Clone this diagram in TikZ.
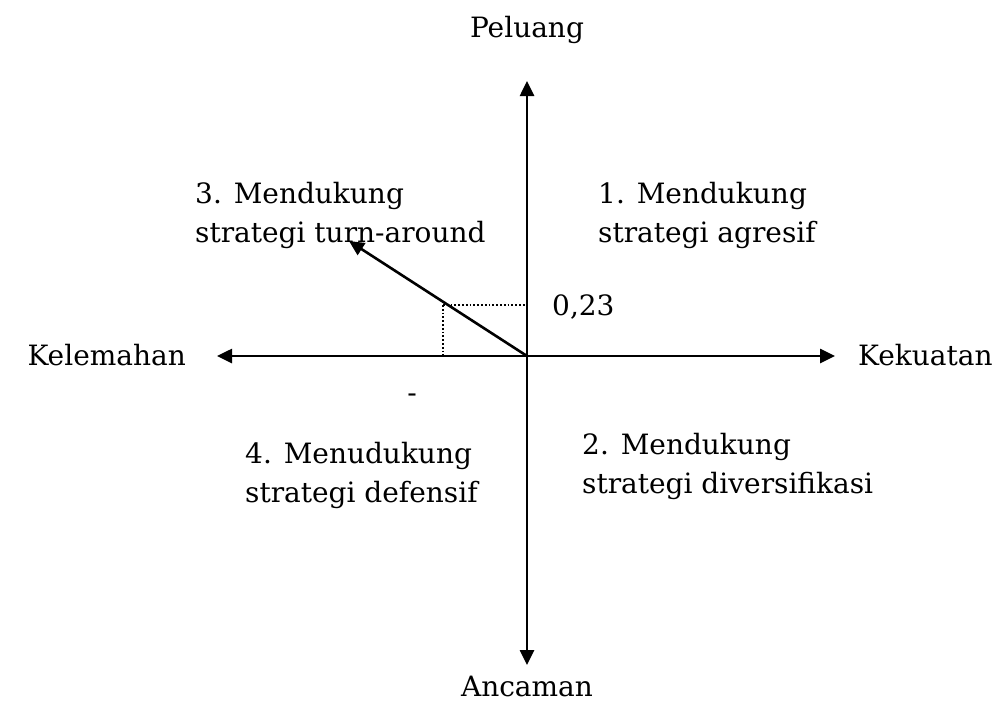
\documentclass[tikz,border=0pt]{standalone}
\usepackage{fontspec}
\setmainfont{DejaVu Serif}
\usetikzlibrary{arrows.meta,positioning}

\begin{document}
\begin{tikzpicture}[
  x=1pt, y=-1pt,
  every node/.style={font=\fontsize{28}{39}\selectfont, inner sep=0pt},
  axis/.style={-{Triangle[length=15pt,width=14pt]}, line width=2.6pt},
  quad/.style={align=left, anchor=base west},
  guide/.style={dotted, line width=1.8pt}
]
  \useasboundingbox (0,0) rectangle (1008,702);
  % axes
  \coordinate (o) at (527,356);
  \coordinate (top) at (527,81);
  \coordinate (bot) at (527,665);
  \coordinate (lft) at (217,356);
  \coordinate (rgt) at (835,356);
  \draw[axis] (o) -- (top);
  \draw[axis] (o) -- (bot);
  \draw[axis] (o) -- (lft);
  \draw[axis] (o) -- (rgt);
  % axis labels
  \node[anchor=base] (peluang) at (527,37) {Peluang};
  \node[anchor=base] (ancaman) at (527,696) {Ancaman};
  \node[anchor=base east] (lemah) at (186,365) {Kelemahan};
  \node[anchor=base west] (kuat) at (858,365) {Kekuatan};
  % position
  \coordinate (pt) at (443,305);
  \coordinate (tip) at (349,241);
  \coordinate (py) at (527,305);
  \coordinate (px) at (443,356);
  \draw[axis] (o) -- (tip);
  \draw[guide] (pt) -- (py);
  \draw[guide] (pt) -- (px);
  \node[anchor=base west] (val) at (552,315) {0,23};
  \node[anchor=base] (neg) at (412,402) {-};
  % quadrants (base = last line)
  \node[quad] (q3) at (195,242) {3. Mendukung\\strategi turn-around};
  \node[quad] (q1) at (598,242) {1. Mendukung\\strategi agresif};
  \node[quad] (q4) at (245,502) {4. Menudukung\\strategi defensif};
  \node[quad] (q2) at (582,493) {2. Mendukung\\strategi diversifikasi};
\end{tikzpicture}
\end{document}
